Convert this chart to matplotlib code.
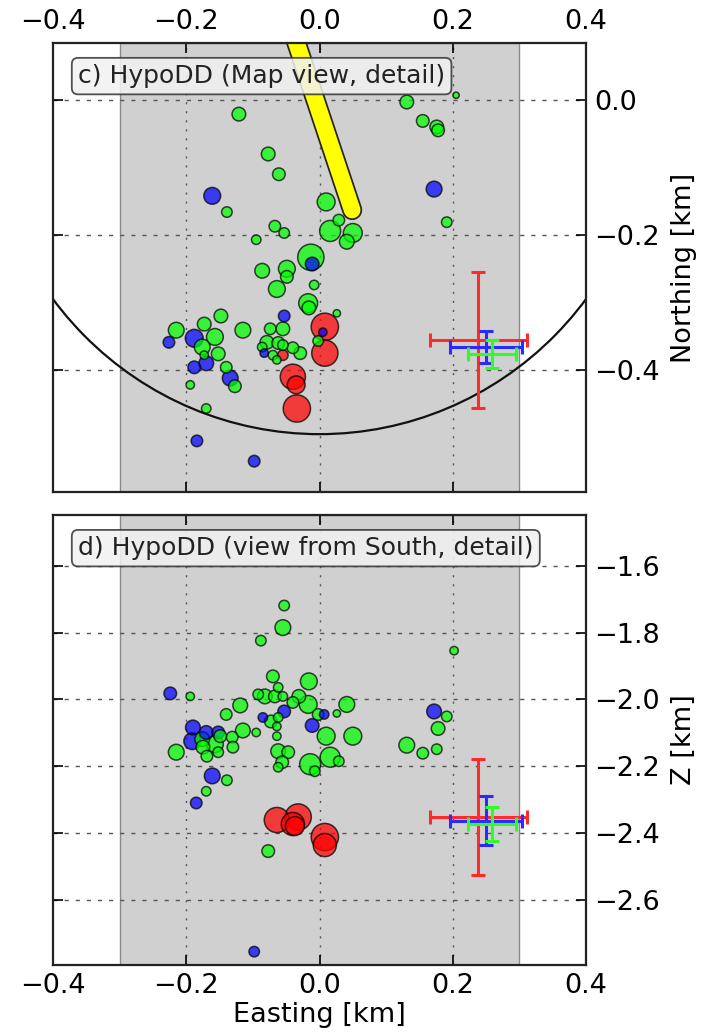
import numpy as np
import matplotlib
matplotlib.use("Agg")
import matplotlib.pyplot as plt
from matplotlib.patches import Circle
import matplotlib.patheffects as pe

# ---------------- data: map view (c) ----------------
map_green_x = [-0.121, -0.077, -0.061, -0.139, 0.010, -0.067, -0.053, -0.095, 0.029, 0.016,
               0.050, 0.041, -0.013, -0.086, -0.049, -0.049, -0.064, -0.008, -0.017, -0.016,
               0.026, -0.002, -0.148, -0.215, -0.173, -0.157, -0.115, -0.074, -0.055, -0.079,
               -0.086, -0.062, -0.055, -0.040, -0.029, -0.070, -0.064, -0.176, -0.173, -0.152,
               -0.140, -0.127, -0.194, -0.170, 0.131, 0.205, 0.155, 0.176, 0.178, 0.191]
map_green_y = [-0.021, -0.080, -0.110, -0.166, -0.151, -0.187, -0.197, -0.207, -0.178, -0.194,
               -0.197, -0.210, -0.233, -0.253, -0.250, -0.262, -0.280, -0.274, -0.301, -0.308,
               -0.316, -0.357, -0.320, -0.341, -0.332, -0.351, -0.341, -0.339, -0.339, -0.359,
               -0.366, -0.360, -0.363, -0.367, -0.375, -0.378, -0.385, -0.366, -0.378, -0.376,
               -0.396, -0.424, -0.422, -0.457, -0.003, 0.007, -0.031, -0.040, -0.045, -0.181]
map_green_size = [13, 13, 12, 10, 17, 11, 10, 9, 11, 20,
                  18, 14, 25, 14, 16, 12, 16, 9, 18, 13,
                  7, 10, 13, 15, 13, 16, 15, 11, 13, 13,
                  9, 12, 10, 11, 12, 9, 8, 15, 8, 13,
                  11, 12, 8, 9, 13, 6, 12, 13, 12, 10]

map_blue_x = [-0.161, -0.011, -0.053, 0.005, -0.188, -0.226, -0.188, -0.170, -0.134, -0.083,
              -0.184, -0.098, 0.172]
map_blue_y = [-0.142, -0.243, -0.320, -0.344, -0.353, -0.359, -0.396, -0.390, -0.412, -0.375,
              -0.505, -0.535, -0.132]
map_blue_size = [16, 13, 11, 8, 17, 11, 12, 14, 15, 8, 11, 11, 15]

map_red_x = [0.008, 0.008, -0.055, -0.040, -0.035, -0.034]
map_red_y = [-0.336, -0.375, -0.378, -0.410, -0.422, -0.457]
map_red_size = [26, 25, 10, 24, 17, 26]

# ---------------- data: view from South (d) ----------------
sec_green_x = [-0.053, -0.055, -0.088, -0.194, -0.070, -0.016, -0.082, -0.067, -0.062, -0.092,
               -0.055, -0.031, -0.040, -0.017, -0.073, -0.062, -0.064, -0.002, 0.041, 0.026,
               0.010, 0.050, -0.064, -0.115, -0.095, -0.119, -0.140, -0.062, -0.047, -0.056,
               -0.062, -0.014, -0.007, 0.016, 0.029, -0.077, -0.176, -0.157, -0.175, -0.149,
               -0.131, -0.130, -0.169, -0.152, -0.215, -0.139, -0.170, 0.202, 0.191, 0.178,
               0.131, 0.155, 0.176]
sec_green_z = [-1.719, -1.785, -1.824, -1.991, -1.931, -1.946, -1.991, -1.991, -1.964, -1.985,
               -1.991, -1.991, -2.009, -2.015, -2.066, -2.054, -2.081, -2.045, -2.015, -2.042,
               -2.110, -2.110, -2.110, -2.093, -2.099, -2.018, -2.045, -2.155, -2.158, -2.188,
               -2.203, -2.194, -2.215, -2.173, -2.185, -2.454, -2.119, -2.134, -2.143, -2.110,
               -2.113, -2.143, -2.170, -2.158, -2.158, -2.242, -2.275, -1.854, -2.051, -2.087,
               -2.137, -2.161, -2.149]
sec_green_size = [10, 15, 10, 8, 12, 16, 14, 12, 9, 10,
                  9, 13, 11, 17, 12, 9, 8, 11, 15, 7,
                  17, 17, 8, 14, 8, 14, 11, 14, 12, 12,
                  9, 20, 10, 19, 10, 12, 14, 16, 13, 12,
                  11, 11, 11, 10, 15, 10, 9, 8, 10, 13,
                  15, 11, 10]

sec_blue_x = [-0.224, -0.053, -0.085, 0.007, -0.011, -0.190, -0.191, -0.170, -0.152, -0.161,
              -0.185, -0.098, 0.172]
sec_blue_z = [-1.982, -2.036, -2.054, -2.045, -2.078, -2.084, -2.125, -2.099, -2.099, -2.229,
              -2.310, -2.755, -2.036]
sec_blue_size = [12, 12, 9, 9, 13, 14, 16, 13, 12, 15, 11, 10, 14]

sec_red_x = [-0.064, -0.032, -0.040, -0.037, 0.008, 0.008]
sec_red_z = [-2.361, -2.352, -2.373, -2.379, -2.412, -2.436]
sec_red_size = [24, 25, 22, 18, 26, 22]

# error crosses (center, half-widths): red, blue, green
err_x = [0.2385, 0.250, 0.259]
err_xerr = [0.0725, 0.054, 0.036]
map_err_y = [-0.3555, -0.366, -0.3765]
map_err_yerr = [0.1005, 0.024, 0.0205]
sec_err_z = [-2.352, -2.363, -2.373]
sec_err_zerr = [0.173, 0.073, 0.051]
err_colors = ["#ff2a2a", "#2a2aff", "#2aff2a"]

# yellow well trace (map view)
well_x = [-0.060, 0.049]
well_y = [0.160, -0.163]

# circle (map view)
circle_center = (0.0, 0.005)
circle_radius = 0.5

# ---------------- figure ----------------
W, H = 708, 1034
fig = plt.figure(figsize=(W / 100, H / 100), dpi=100)
left = 53 / W
width = (586 - 53) / W
ax1 = fig.add_axes([left, 1 - 492 / H, width, (492 - 43) / H])
ax2 = fig.add_axes([left, 1 - 965 / H, width, (965 - 515) / H])

FS = 19.5
TFS = 18


def scatter_events(ax, groups):
    xs, ys, ss, cs = [], [], [], []
    for x, y, s, c in groups:
        xs += list(x); ys += list(y); ss += list(s); cs += [c] * len(x)
    order = np.argsort(-np.array(ss), kind="stable")
    xs = np.array(xs)[order]; ys = np.array(ys)[order]
    ss = (np.array(ss)[order] * 0.72 * 1.05) ** 2
    cs = [cs[i] for i in order]
    ax.scatter(xs, ys, s=ss, c=cs, alpha=0.72, edgecolors="black", linewidths=1.1, zorder=4)


def style(ax, yticks, ylabel, title, top_labels):
    ax.axvspan(-0.3, 0.3, facecolor="#d0d0d0", edgecolor="#8a8a8a", linewidth=1.0, zorder=0)
    ax.set_xlim(-0.4, 0.4)
    ax.set_xticks([-0.4, -0.2, 0.0, 0.2, 0.4])
    ax.set_yticks(yticks)
    for xv in [-0.2, 0.0, 0.2]:
        ax.axvline(xv, color="#555555", lw=1.0, ls=(0, (1.5, 5)), zorder=1)
    for yv in yticks:
        ax.axhline(yv, color="#555555", lw=1.0, ls=(0, (3, 5)), zorder=1)
    ax.tick_params(direction="in", length=7, width=1.2, top=True, bottom=True,
                   left=True, right=True, labelsize=FS,
                   labelleft=False, labelright=True,
                   labeltop=top_labels, labelbottom=not top_labels, pad=6)
    ax.yaxis.set_label_position("right")
    ax.set_ylabel(ylabel, fontsize=FS, labelpad=8)
    for sp in ax.spines.values():
        sp.set_linewidth(1.6)
        sp.set_color("#222222")
        sp.set_zorder(6)
    ax.text(0.047, 0.953, title, transform=ax.transAxes, ha="left", va="top",
            fontsize=TFS, color="#222222", zorder=10,
            bbox=dict(boxstyle="round,pad=0.25", facecolor="#f2f2f2", alpha=0.85,
                      edgecolor="#333333", linewidth=1.3))


# ---- panel c ----
style(ax1, [0.0, -0.2, -0.4], "Northing [km]", "c) HypoDD (Map view, detail)", True)
ax1.set_ylim(-0.5807, 0.0844)
ax1.add_patch(Circle(circle_center, circle_radius, fill=False, edgecolor="#111111",
                     linewidth=1.6, zorder=3))
ax1.plot(well_x, well_y, color="#ffff00", lw=12, solid_capstyle="round", zorder=3,
         path_effects=[pe.Stroke(linewidth=14.5, foreground="#222222"), pe.Normal()])
scatter_events(ax1, [(map_red_x, map_red_y, map_red_size, "#ff0000"),
                     (map_blue_x, map_blue_y, map_blue_size, "#0000ff"),
                     (map_green_x, map_green_y, map_green_size, "#00ff00")])
for i in range(3):
    ax1.errorbar(err_x[i], map_err_y[i], xerr=err_xerr[i], yerr=map_err_yerr[i],
                 color=err_colors[i], lw=2.2, capsize=5, capthick=2.2, zorder=5)

# ---- panel d ----
style(ax2, [-1.6, -1.8, -2.0, -2.2, -2.4, -2.6], "Z [km]",
      "d) HypoDD (view from South, detail)", False)
ax2.set_ylim(-2.795, -1.448)
ax2.set_xlabel("Easting [km]", fontsize=FS, labelpad=2)
scatter_events(ax2, [(sec_red_x, sec_red_z, sec_red_size, "#ff0000"),
                     (sec_blue_x, sec_blue_z, sec_blue_size, "#0000ff"),
                     (sec_green_x, sec_green_z, sec_green_size, "#00ff00")])
for i in range(3):
    ax2.errorbar(err_x[i], sec_err_z[i], xerr=err_xerr[i], yerr=sec_err_zerr[i],
                 color=err_colors[i], lw=2.2, capsize=5, capthick=2.2, zorder=5)

fig.savefig("out.png", dpi=100)
